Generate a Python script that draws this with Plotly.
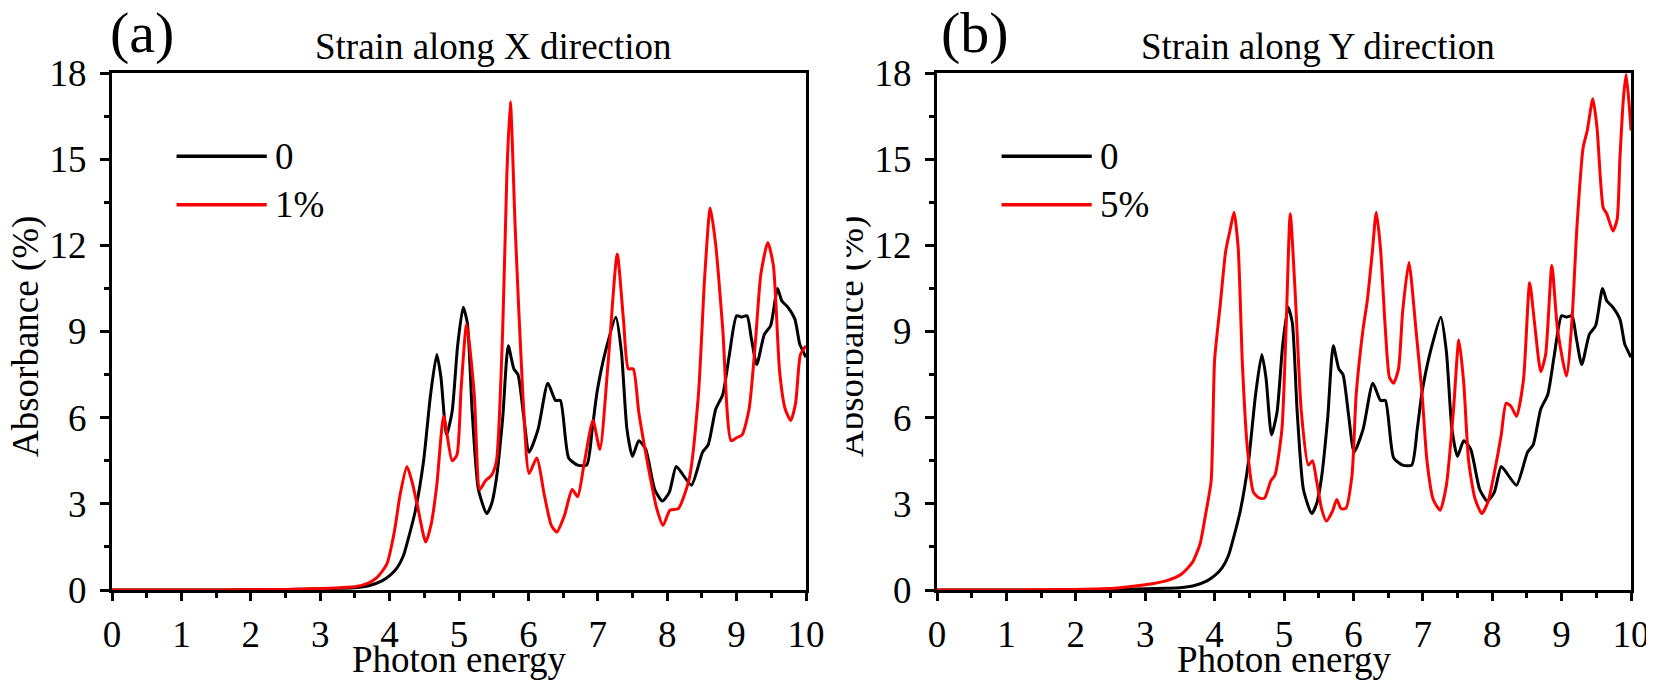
import plotly.graph_objects as go
from plotly.subplots import make_subplots

# photon energy / absorbance (%)
energy_0 = [0, 1, 2, 2.5, 3.0, 3.3, 3.5, 3.7, 3.89, 4.0, 4.11, 4.2, 4.26, 4.37, 4.49, 4.59,
            4.68, 4.74, 4.82, 4.9, 4.98, 5.06, 5.12, 5.19, 5.28, 5.4, 5.47, 5.54, 5.63, 5.71,
            5.79, 5.85, 5.93, 6.01, 6.14, 6.28, 6.39, 6.46, 6.58, 6.71, 6.84, 6.92, 6.99, 7.12,
            7.26, 7.34, 7.42, 7.5, 7.59, 7.69, 7.82, 7.93, 8.03, 8.13, 8.23, 8.35, 8.51, 8.59,
            8.7, 8.8, 8.89, 9.0, 9.07, 9.15, 9.21, 9.29, 9.4, 9.49, 9.59, 9.65, 9.74, 9.84,
            9.91, 9.96, 10.0]
absorb_0 = [0, 0, 0.01, 0.02, 0.04, 0.06, 0.08, 0.15, 0.32, 0.5, 0.78, 1.2, 1.7, 2.75, 4.5, 6.8,
            8.2, 7.4, 5.4, 6.2, 8.5, 9.84, 9.3, 6.2, 3.5, 2.66, 3.0, 3.9, 6.0, 8.5,
            7.7, 7.5, 6.1, 4.8, 5.6, 7.2, 6.6, 6.6, 4.6, 4.35, 4.35, 5.6, 6.9, 8.4,
            9.5, 8.3, 5.6, 4.65, 5.2, 4.9, 3.5, 3.1, 3.4, 4.3, 4.0, 3.65, 4.8, 5.05,
            6.3, 6.8, 8.1, 9.55, 9.5, 9.55, 8.8, 7.85, 8.9, 9.2, 10.5, 10.07, 9.84, 9.43,
            8.56, 8.3, 8.1]

energy_x1 = [0, 1, 2, 2.5, 3.0, 3.3, 3.52, 3.7, 3.82, 3.96, 4.07, 4.15, 4.25, 4.32, 4.4, 4.52,
             4.6, 4.68, 4.78, 4.9, 4.97, 5.03, 5.11, 5.22, 5.3, 5.38, 5.47, 5.54, 5.63, 5.69,
             5.74, 5.81, 5.92, 6.01, 6.12, 6.23, 6.33, 6.41, 6.52, 6.63, 6.71, 6.8, 6.93, 7.03,
             7.15, 7.28, 7.37, 7.44, 7.51, 7.59, 7.75, 7.85, 7.94, 8.04, 8.16, 8.32, 8.45, 8.54,
             8.62, 8.7, 8.8, 8.92, 9.0, 9.08, 9.18, 9.27, 9.35, 9.45, 9.53, 9.57, 9.62, 9.7,
             9.78, 9.85, 9.92, 10.0]
absorb_x1 = [0, 0, 0.01, 0.02, 0.05, 0.08, 0.12, 0.25, 0.44, 0.9, 2.05, 3.3, 4.3, 3.8, 2.95, 1.67,
             2.3, 3.65, 6.05, 4.5, 4.7, 7.0, 9.25, 6.8, 3.5, 3.8, 4.0, 4.5, 9.1, 14.5,
             17.0, 12.6, 6.8, 4.06, 4.6, 3.3, 2.25, 2.02, 2.6, 3.5, 3.25, 4.35, 5.9, 4.9,
             7.95, 11.7, 9.4, 7.7, 7.7, 6.2, 4.0, 2.83, 2.25, 2.78, 2.83, 3.9, 6.8, 10.9,
             13.3, 12.0, 9.1, 5.2, 5.3, 5.4, 6.3, 8.6, 11.0, 12.1, 11.3, 9.8, 7.6, 6.3,
             5.9, 6.5, 8.2, 8.5]

energy_y5 = [0, 1, 2, 2.6, 3.0, 3.3, 3.52, 3.68, 3.79, 3.87, 3.95, 4.0, 4.08, 4.16, 4.22, 4.28,
             4.34, 4.4, 4.47, 4.56, 4.65, 4.72, 4.81, 4.87, 4.97, 5.03, 5.09, 5.16, 5.25, 5.35,
             5.41, 5.47, 5.54, 5.61, 5.7, 5.76, 5.82, 5.89, 5.98, 6.04, 6.14, 6.2, 6.27, 6.33,
             6.39, 6.46, 6.52, 6.58, 6.65, 6.71, 6.8, 6.9, 6.99, 7.06, 7.15, 7.25, 7.34, 7.44,
             7.52, 7.59, 7.66, 7.75, 7.85, 7.94, 8.04, 8.13, 8.2, 8.27, 8.35, 8.45, 8.54, 8.61,
             8.7, 8.77, 8.86, 8.94, 9.07, 9.15, 9.22, 9.31, 9.37, 9.45, 9.51, 9.56, 9.6, 9.65,
             9.74, 9.8, 9.84, 9.89, 9.93, 9.98, 10.0]
absorb_y5 = [0, 0, 0.02, 0.07, 0.18, 0.32, 0.55, 0.96, 1.6, 2.63, 3.8, 8.0, 9.9, 11.8, 12.5, 13.15,
             11.9, 7.9, 5.0, 3.4, 3.2, 3.2, 3.8, 4.0, 5.6, 9.1, 13.1, 10.4, 6.2, 4.35,
             4.5, 3.8, 2.84, 2.4, 2.75, 3.15, 2.84, 2.84, 4.0, 6.8, 9.1, 10.07, 11.7, 13.15,
             11.9, 9.1, 7.4, 7.2, 7.7, 9.7, 11.4, 9.1, 6.8, 4.5, 3.15, 2.78, 3.65, 6.2,
             8.7, 7.2, 4.5, 3.2, 2.66, 3.07, 4.2, 5.4, 6.5, 6.4, 6.05, 7.3, 10.7, 9.3,
             7.6, 8.2, 11.3, 9.1, 7.45, 9.4, 12.6, 15.4, 16.0, 17.1, 16.1, 14.3, 13.3, 13.1,
             12.5, 12.9, 15.0, 17.1, 17.95, 16.7, 16.0]

panel_titles = ['Strain along X direction', 'Strain along Y direction']
panel_tags = ['(a)', '(b)']
legend_labels = [['0', '1%'], ['0', '5%']]
x_ticks = list(range(0, 11))
y_ticks = [0, 3, 6, 9, 12, 15, 18]

# the page body keeps its default 8px margin, so the figure is shifted by 8px
OFF = 8
W, H = 1654 - OFF, 685 - OFF
FONT = 'Liberation Serif, Times New Roman, serif'
FS = 37


def px_x(v):
    # v: pixel position in the browser window
    return (v - OFF) / W


def px_y(v):
    return 1 - (v - OFF) / H


fig = make_subplots(rows=1, cols=2)

series = [
    (1, energy_0, absorb_0, 'black'),
    (1, energy_x1, absorb_x1, 'red'),
    (2, energy_0, absorb_0, 'black'),
    (2, energy_y5, absorb_y5, 'red'),
]
for col, xs, ys, color in series:
    fig.add_trace(go.Scatter(x=xs, y=ys, mode='lines',
                             line=dict(color=color, width=3, shape='spline', smoothing=0.6),
                             showlegend=False, hoverinfo='skip'),
                  row=1, col=col)

x_domains = [[px_x(112), px_x(806)], [px_x(937), px_x(1631)]]
y_domain = [px_y(590), px_y(73)]

axis_common = dict(showline=True, linecolor='black', linewidth=3, mirror=True,
                   ticks='outside', tickcolor='black', tickwidth=2.5,
                   showgrid=False, zeroline=False, automargin=False,
                   layer='below traces',
                   tickfont=dict(family=FONT, size=FS, color='black'))

for i in range(2):
    fig.update_xaxes(domain=x_domains[i], range=[0, 10], tickvals=x_ticks, ticklen=8,
                     ticklabelstandoff=2,
                     minor=dict(dtick=0.5, ticklen=5, tickwidth=2.5, tickcolor='black', ticks='outside'),
                     row=1, col=i + 1, **axis_common)
    fig.update_yaxes(domain=y_domain, range=[0, 18], tickvals=y_ticks, ticklen=9,
                     ticklabelstandoff=6,
                     minor=dict(dtick=1.5, ticklen=5, tickwidth=2.5, tickcolor='black', ticks='outside'),
                     row=1, col=i + 1, **axis_common)

annotations = []
shapes = []


def note(text, x, y, xref='paper', yref='paper', xanchor='center', size=FS, **kw):
    annotations.append(dict(text=text, x=x, y=y, xref=xref, yref=yref, showarrow=False,
                            xanchor=xanchor, yanchor='middle',
                            font=dict(family=FONT, size=size, color='black'), **kw))


panel_left = [112, 937]
for i in range(2):
    left = panel_left[i]
    xref = 'x domain' if i == 0 else 'x2 domain'
    yref = 'y domain' if i == 0 else 'y2 domain'
    # panel tag and title
    note(panel_tags[i], px_x(left + 30 + 8 * i), px_y(32), size=58)
    note(panel_titles[i], px_x(left + 381), px_y(46))
    # axis titles
    note('Photon energy', px_x(left + 347), px_y(659))
    note('Absorbance (%)', px_x(left - 86), px_y(337), textangle=-90)
    # legend
    for j, (lab, color) in enumerate(zip(legend_labels[i], ['black', 'red'])):
        yy = 0.839 - j * 0.094
        shapes.append(dict(type='line', xref=xref, yref=yref, x0=0.093, x1=0.223,
                           y0=yy, y1=yy, line=dict(color=color, width=3.5)))
        note(lab, 0.232, yy, xref=xref, yref=yref, xanchor='left')

# the second y-title is cut off on its left side in the original
annotations.append(dict(text=' ', x=px_x(828), y=px_y(337), xref='paper', yref='paper',
                        xanchor='center', yanchor='middle', showarrow=False,
                        width=34, height=300, bgcolor='white'))

fig.update_layout(width=W, height=H, margin=dict(l=0, r=0, t=0, b=0),
                  paper_bgcolor='white', plot_bgcolor='white',
                  annotations=annotations, shapes=shapes, showlegend=False)

fig.write_html('out.html')
